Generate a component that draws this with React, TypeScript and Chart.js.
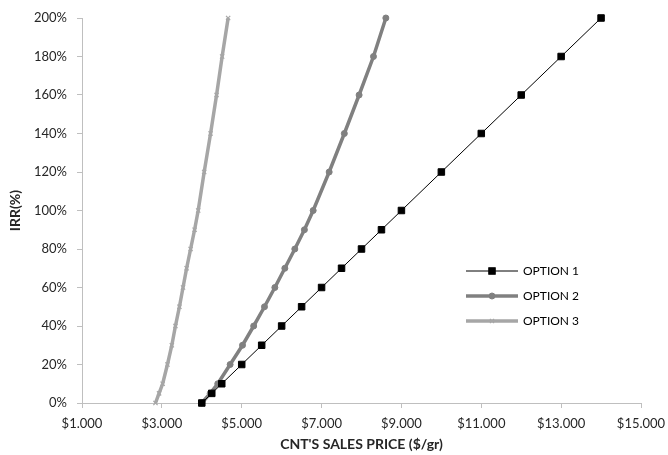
import React, { useEffect, useRef } from "react";
import { Chart, registerables } from "chart.js";

Chart.register(...registerables);

const irrValues = [0, 5, 10, 20, 30, 40, 50, 60, 70, 80, 90, 100, 120, 140, 160, 180, 200];
const priceOption1 = [4000, 4250, 4500, 5000, 5500, 6000, 6500, 7000, 7500, 8000, 8500, 9000, 10000, 11000, 12000, 13000, 14000];
const priceOption2 = [4000, 4210, 4400, 4710, 5020, 5300, 5570, 5830, 6080, 6330, 6570, 6790, 7190, 7570, 7940, 8300, 8610];
const priceOption3 = [2840, 2930, 3020, 3140, 3250, 3340, 3440, 3530, 3620, 3720, 3820, 3910, 4060, 4220, 4370, 4510, 4660];
const seriesNames = ["OPTION 1", "OPTION 2", "OPTION 3"];
const xTicks = [1000, 3000, 5000, 7000, 9000, 11000, 13000, 15000];
const yTicks = [0, 20, 40, 60, 80, 100, 120, 140, 160, 180, 200];

const FONT = "Lato, 'Open Sans', sans-serif";

function fmtMoney(v: number): string {
  const s = Math.round(v).toString();
  return "$" + s.replace(/\B(?=(\d{3})+(?!\d))/g, ".");
}

const legendPlugin = {
  id: "insideLegend",
  afterDraw(chart: any) {
    const ctx = chart.ctx;
    const ca = chart.chartArea;
    const x0 = ca.left + 384;
    const x1 = ca.left + 436;
    const xm = (x0 + x1) / 2;
    const tx = ca.left + 441;
    const rows = [ca.top + 253, ca.top + 278, ca.top + 303];
    chart.data.datasets.forEach((ds: any, i: number) => {
      const y = rows[i];
      ctx.save();
      ctx.strokeStyle = ds.borderColor;
      ctx.lineWidth = ds.borderWidth;
      ctx.beginPath();
      ctx.moveTo(x0, y);
      ctx.lineTo(x1, y);
      ctx.stroke();
      ctx.fillStyle = ds.pointBackgroundColor;
      ctx.strokeStyle = ds.pointBorderColor;
      ctx.lineWidth = ds.pointBorderWidth;
      const r = ds.pointRadius;
      if (ds.pointStyle === "rect") {
        const s = Math.SQRT1_2 * r;
        ctx.fillRect(xm - s, y - s, 2 * s, 2 * s);
        ctx.strokeRect(xm - s, y - s, 2 * s, 2 * s);
      } else if (ds.pointStyle === "circle") {
        ctx.beginPath();
        ctx.arc(xm, y, r, 0, Math.PI * 2);
        ctx.fill();
        ctx.stroke();
      } else {
        ctx.beginPath();
        ctx.moveTo(xm - r * 0.7, y - r * 0.7);
        ctx.lineTo(xm + r * 0.7, y + r * 0.7);
        ctx.moveTo(xm - r * 0.7, y + r * 0.7);
        ctx.lineTo(xm + r * 0.7, y - r * 0.7);
        ctx.stroke();
      }
      ctx.fillStyle = "#000000";
      ctx.font = "12px " + FONT;
      ctx.textAlign = "left";
      ctx.textBaseline = "middle";
      ctx.fillText(ds.label, tx, y + 0.5);
      ctx.restore();
    });
  },
};

export default function App() {
  const canvasRef = useRef<HTMLCanvasElement | null>(null);

  useEffect(() => {
    if (!canvasRef.current) return;
    const mk = (xs: number[]) => xs.map((x, i) => ({ x, y: irrValues[i] }));
    const chart = new Chart(canvasRef.current, {
      type: "line",
      data: {
        datasets: [
          {
            label: seriesNames[0],
            data: mk(priceOption1),
            borderColor: "#000000",
            borderWidth: 1,
            pointStyle: "rect",
            pointRadius: 4.6,
            pointBackgroundColor: "#000000",
            pointBorderColor: "#000000",
            pointBorderWidth: 1,
            clip: false,
          },
          {
            label: seriesNames[1],
            data: mk(priceOption2),
            borderColor: "#808080",
            borderWidth: 3.5,
            pointStyle: "circle",
            pointRadius: 3,
            pointBackgroundColor: "#808080",
            pointBorderColor: "#808080",
            pointBorderWidth: 1,
            clip: false,
          },
          {
            label: seriesNames[2],
            data: mk(priceOption3),
            borderColor: "#A6A6A6",
            borderWidth: 3.5,
            pointStyle: "crossRot",
            pointRadius: 3,
            pointBackgroundColor: "#A6A6A6",
            pointBorderColor: "#A6A6A6",
            pointBorderWidth: 1.2,
            clip: false,
          },
        ],
      },
      options: {
        animation: false,
        responsive: false,
        maintainAspectRatio: false,
        layout: { padding: { left: 0, right: 27, top: 18, bottom: 0 } },
        plugins: { legend: { display: false }, tooltip: { enabled: false } },
        scales: {
          x: {
            type: "linear",
            min: xTicks[0],
            max: xTicks[xTicks.length - 1],
            afterBuildTicks: (s: any) => {
              s.ticks = xTicks.map((v) => ({ value: v }));
            },
            afterFit: (s: any) => {
              s.height = 52;
              s.paddingLeft = 0;
              s.paddingRight = 0;
            },
            ticks: {
              callback: (v: any) => fmtMoney(Number(v)),
              color: "#262626",
              font: { family: FONT, size: 13 },
              padding: 8,
              maxRotation: 0,
            },
            grid: { display: true, drawOnChartArea: false, tickLength: 5, color: "#BFBFBF", lineWidth: 1 },
            border: { display: true, color: "#BFBFBF", width: 1 },
            title: {
              display: true,
              text: "CNT'S SALES PRICE ($/gr)",
              color: "#262626",
              font: { family: FONT, size: 14, weight: "bold" },
              padding: { top: 0, bottom: 2 },
            },
          },
          y: {
            type: "linear",
            min: yTicks[0],
            max: yTicks[yTicks.length - 1],
            afterBuildTicks: (s: any) => {
              s.ticks = yTicks.map((v) => ({ value: v }));
            },
            afterFit: (s: any) => {
              s.width = 82;
              s.paddingTop = 0;
              s.paddingBottom = 0;
            },
            ticks: {
              callback: (v: any) => v + "%",
              color: "#262626",
              font: { family: FONT, size: 13 },
              padding: 10,
            },
            grid: { display: true, drawOnChartArea: false, tickLength: 5, color: "#BFBFBF", lineWidth: 1 },
            border: { display: true, color: "#BFBFBF", width: 1 },
            title: {
              display: true,
              text: "IRR(%)",
              color: "#262626",
              font: { family: FONT, size: 14, weight: "bold" },
              padding: { top: 7, bottom: 0 },
            },
          },
        },
      },
      plugins: [legendPlugin],
    } as any);
    return () => chart.destroy();
  }, []);

  return (
    <div style={{ position: "fixed", left: 0, top: 0, width: 668, height: 455 }}>
      <canvas ref={canvasRef} width={668} height={455} style={{ display: "block", width: 668, height: 455 }} />
    </div>
  );
}
